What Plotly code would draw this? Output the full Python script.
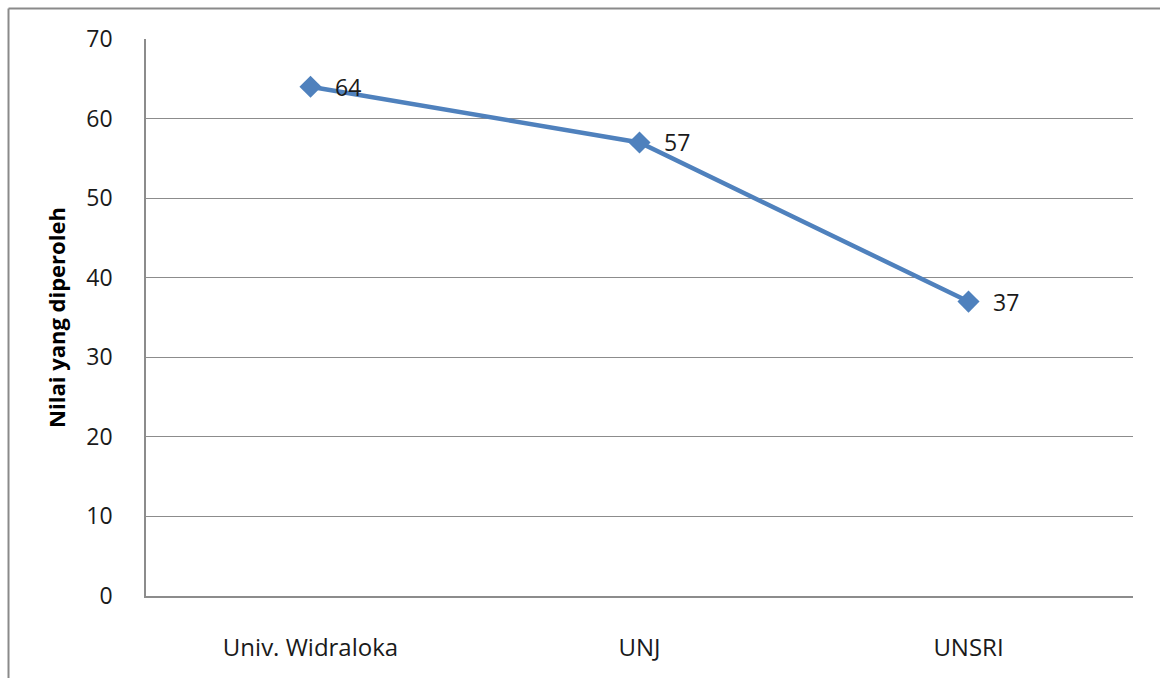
import plotly.graph_objects as go

categories = ["Univ. Widraloka", "UNJ", "UNSRI"]
values = [64, 57, 37]
y_ticks = [0, 10, 20, 30, 40, 50, 60, 70]
y_title = "Nilai yang diperoleh"

FONT = "Open Sans"
LINE_BLUE = "#4F81BD"
GRID = "#8C8C8C"

fig = go.Figure()
fig.add_trace(go.Scatter(
    x=categories, y=values, mode="lines+markers",
    line=dict(color=LINE_BLUE, width=4.5),
    marker=dict(symbol="diamond", size=17, color=LINE_BLUE),
    showlegend=False, hoverinfo="skip",
))

for c, v in zip(categories, values):
    fig.add_annotation(x=c, y=v, text=str(v), showarrow=False,
                       xanchor="left", yanchor="middle", xshift=22,
                       font=dict(family=FONT, size=23, color="#1a1a1a"))

# outer chart frame
fig.add_shape(type="line", xref="paper", yref="paper",
              x0=-0.1393, x1=1.05, y0=1.0548, y1=1.0548,
              line=dict(color="#8a8a8a", width=2))
fig.add_shape(type="line", xref="paper", yref="paper",
              x0=-0.1393, x1=-0.1393, y0=1.0548, y1=-0.2,
              line=dict(color="#8a8a8a", width=2))

fig.update_layout(
    width=1160, height=678,
    margin=dict(l=146, r=27, t=39, b=82),
    paper_bgcolor="white", plot_bgcolor="white",
    font=dict(family=FONT, size=23, color="#1a1a1a"),
)
fig.update_xaxes(
    type="category", range=[-0.5, 2.5],
    showline=True, linecolor=GRID, linewidth=1.5,
    showgrid=False, ticks="", ticklabelstandoff=29,
    tickfont=dict(family=FONT, size=24, color="#1a1a1a"),
)
fig.update_yaxes(
    range=[0, 70], tickvals=y_ticks, ticktext=[str(t) for t in y_ticks],
    showline=True, linecolor=GRID, linewidth=1.5,
    showgrid=True, gridcolor=GRID, gridwidth=1.2,
    zeroline=False, ticks="", ticklabelstandoff=27,
    tickfont=dict(family=FONT, size=23, color="#1a1a1a"),
    title=dict(text=f"<b>{y_title}</b>", standoff=15,
               font=dict(family=FONT, size=22, color="black")),
)

fig.write_html("out.html")
